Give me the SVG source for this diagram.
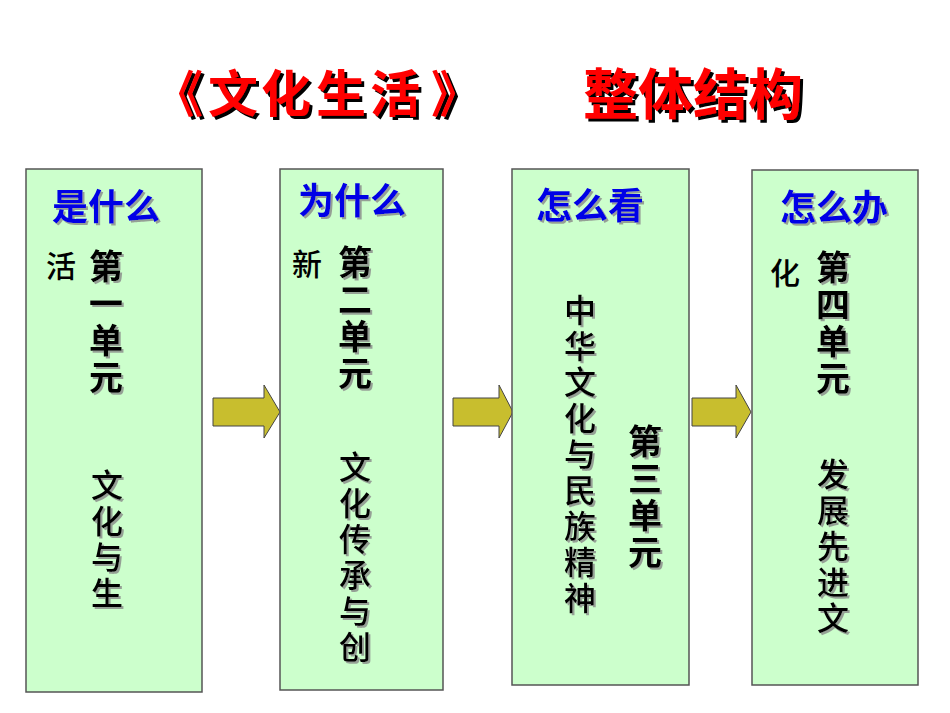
<svg xmlns="http://www.w3.org/2000/svg" width="950" height="713" viewBox="0 0 950 713">
<defs>
<filter id="sh" x="-30%" y="-10%" width="160%" height="120%"><feDropShadow dx="2" dy="2" stdDeviation="0.6" flood-color="#888" flood-opacity="0.8"/></filter>
<filter id="tsh" x="-10%" y="-20%" width="120%" height="140%"><feDropShadow dx="3" dy="3" stdDeviation="0" flood-color="#000" flood-opacity="1"/></filter>
</defs>
<style>
.box{fill:#CCFFCC;stroke:#555;stroke-width:1.5}
.arr{fill:#C8BE2E;stroke:#444;stroke-width:1}
.t{font-family:"Noto Sans CJK SC",sans-serif;fill:#000}
.v{writing-mode:vertical-rl;text-orientation:upright}
.title{font-family:"Noto Sans CJK SC",sans-serif;font-weight:bold;fill:#FF0000;filter:url(#tsh)}
.hd{font-family:"Noto Sans CJK SC",sans-serif;font-weight:bold;font-size:36px;fill:#0000E6;text-anchor:middle;filter:url(#sh)}
.u{font-size:34px;font-weight:bold;letter-spacing:3px;filter:url(#sh)}
.k{font-size:32px;font-weight:500;letter-spacing:4px;filter:url(#sh)}
.s{font-size:30px;font-weight:500;text-anchor:middle}
</style>
<rect width="950" height="713" fill="#fff"/>
<g id="title">
<text class="title" font-size="50" text-anchor="middle"><tspan x="178" y="112">《</tspan><tspan x="233" y="112">文</tspan><tspan x="286" y="112">化</tspan><tspan x="341" y="112">生</tspan><tspan x="395" y="112">活</tspan><tspan x="456" y="112">》</tspan></text>
<text class="title" font-size="55" x="583" y="114">整体结构</text>
</g>
<g id="connectors">
<polygon class="arr" points="213,398 264,398 264,385 280,412 264,438 264,426 213,426"/>
<polygon class="arr" points="453,398 499,398 499,385 513,412 499,438 499,426 453,426"/>
<polygon class="arr" points="692,398 736,398 736,385 751,412 736,438 736,426 692,426"/>
</g>
<g id="unit1">
<rect class="box" x="26" y="169" width="176" height="523"/>
<text class="hd" x="106" y="220">是什么</text>
<text class="t s" x="61" y="277">活</text>
<text class="t v u" x="106" y="249">第一单元</text>
<text class="t v k" x="107" y="469">文化与生</text>
</g>
<g id="unit2">
<rect class="box" x="280" y="169" width="163" height="521"/>
<text class="hd" x="352" y="214">为什么</text>
<text class="t s" x="307" y="275">新</text>
<text class="t v u" x="355" y="245">第二单元</text>
<text class="t v k" x="355" y="451">文化传承与创</text>
</g>
<g id="unit3">
<rect class="box" x="512" y="169" width="177" height="516"/>
<text class="hd" x="590" y="219">怎么看</text>
<text class="t v k" x="580" y="294">中华文化与民族精神</text>
<text class="t v u" x="645" y="424">第三单元</text>
</g>
<g id="unit4">
<rect class="box" x="752" y="170" width="166" height="515"/>
<text class="hd" x="834" y="221">怎么办</text>
<text class="t s" x="785" y="284">化</text>
<text class="t v u" x="833" y="250">第四单元</text>
<text class="t v k" x="833" y="458">发展先进文</text>
</g>
</svg>
